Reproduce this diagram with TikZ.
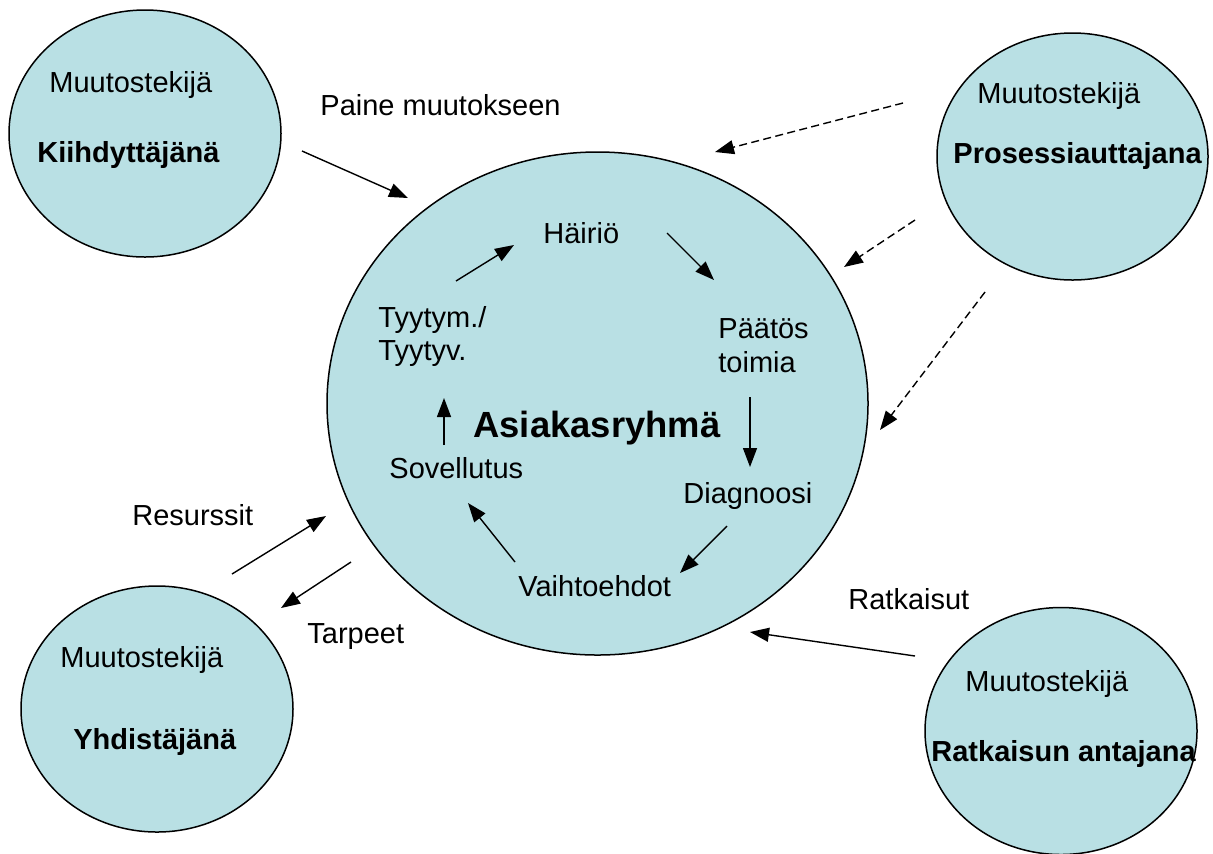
\documentclass[tikz,border=0pt]{standalone}
\usepackage{fontspec}
\setmainfont{Liberation Sans}
\usetikzlibrary{shapes.geometric,arrows.meta}
\definecolor{cfill}{RGB}{185,224,228}
\begin{document}
\begin{tikzpicture}[x=0.5pt,y=-0.5pt,
  blob/.style={ellipse, draw=black, line width=0.75pt, fill=cfill, inner sep=0pt},
  txt/.style={anchor=base west, inner sep=0pt, font=\fontsize{14.5}{16.75}\selectfont},
  btxt/.style={anchor=base west, inner sep=0pt, font=\fontsize{14.5}{16.75}\selectfont\bfseries},
  arr/.style={line width=0.7pt, -{Triangle[length=9.5pt,width=7pt]}},
  darr/.style={arr, dash pattern=on 4pt off 2.2pt}]
\useasboundingbox (0,0) rectangle (1213,853);
% circles
\node[blob, minimum width=136pt, minimum height=123.5pt] (kii) at (145,133.5) {};
\node[blob, minimum width=135.5pt, minimum height=123.5pt] (pro) at (1072.5,156.5) {};
\node[blob, minimum width=136pt, minimum height=123pt] (yhd) at (157,709) {};
\node[blob, minimum width=136pt, minimum height=123.5pt] (rat) at (1061,731) {};
\node[blob, minimum width=270.5pt, minimum height=251.5pt] (asi) at (597.5,403.5) {};
% circle texts
\node[txt] (kiiA) at (49,92) {Muutostekijä};
\node[btxt] (kiiB) at (37,162) {Kiihdyttäjänä};
\node[txt] (proA) at (977,103) {Muutostekijä};
\node[btxt] (proB) at (953,163) {Prosessiauttajana};
\node[txt] (yhdA) at (60,667) {Muutostekijä};
\node[btxt] (yhdB) at (73,749) {Yhdistäjänä};
\node[txt] (ratA) at (965,691) {Muutostekijä};
\node[btxt] (ratB) at (931,761) {Ratkaisun antajana};
% outer labels
\node[txt] (paine) at (320,115) {Paine muutokseen};
\node[txt] (resu) at (132,525) {Resurssit};
\node[txt] (tarp) at (307,643) {Tarpeet};
\node[txt] (ratk) at (848,609) {Ratkaisut};
% inner cycle
\node[txt] (hai) at (543,243) {Häiriö};
\node[txt] (tyy1) at (378,327) {Tyytym./};
\node[txt] (tyy2) at (378,360) {Tyytyv.};
\node[txt] (paa1) at (718,338) {Päätös};
\node[txt] (paa2) at (718,372) {toimia};
\node[anchor=base west, inner sep=0pt, font=\fontsize{18.2}{20}\selectfont\bfseries] (asiT) at (473,437) {Asiakasryhmä};
\node[txt] (sov) at (389,478) {Sovellutus};
\node[txt] (dia) at (683,503) {Diagnoosi};
\node[txt] (vai) at (518,596) {Vaihtoehdot};
% arrow end points
\coordinate (p1) at (302,151); \coordinate (p2) at (408,198);
\coordinate (r1) at (232,574); \coordinate (r2) at (326,516);
\coordinate (t1) at (351,562); \coordinate (t2) at (281,608);
\coordinate (k1) at (915,656); \coordinate (k2) at (750,632);
\coordinate (d1a) at (903,103); \coordinate (d1b) at (715,152);
\coordinate (d2a) at (915,220); \coordinate (d2b) at (844,267);
\coordinate (d3a) at (985,292); \coordinate (d3b) at (880,430);
\coordinate (c1a) at (456,281); \coordinate (c1b) at (514,245);
\coordinate (c2a) at (667,233); \coordinate (c2b) at (714,280);
\coordinate (c3a) at (750,397); \coordinate (c3b) at (750,467);
\coordinate (c4a) at (727,526); \coordinate (c4b) at (680,573);
\coordinate (c5a) at (515,562); \coordinate (c5b) at (468,503);
\coordinate (c6a) at (444,445); \coordinate (c6b) at (444,398);
% arrows
\draw[arr] (p1) -- (p2);
\draw[arr] (r1) -- (r2);
\draw[arr] (t1) -- (t2);
\draw[arr] (k1) -- (k2);
\draw[darr] (d1a) -- (d1b);
\draw[darr] (d2a) -- (d2b);
\draw[darr] (d3a) -- (d3b);
\draw[arr] (c1a) -- (c1b);
\draw[arr] (c2a) -- (c2b);
\draw[arr] (c3a) -- (c3b);
\draw[arr] (c4a) -- (c4b);
\draw[arr] (c5a) -- (c5b);
\draw[arr] (c6a) -- (c6b);
\end{tikzpicture}
\end{document}
